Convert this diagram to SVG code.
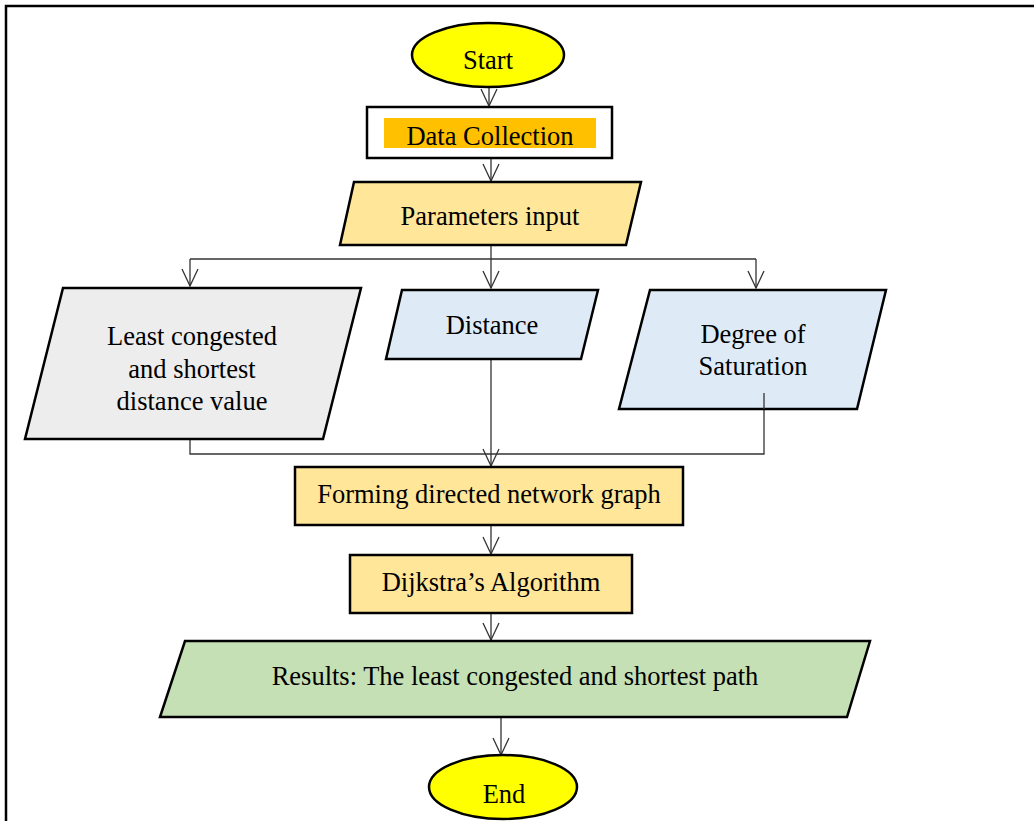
<svg xmlns="http://www.w3.org/2000/svg" width="1034" height="821" viewBox="0 0 1034 821">
<style>
  .shape { stroke: #000; stroke-width: 2.5; }
  .conn { fill: none; stroke: #333; stroke-width: 1.3; }
  .lbl { font-family: 'Liberation Serif', 'Times New Roman', serif; font-size: 26.5px; fill: #000; text-anchor: middle; }
</style>
<defs>
  <marker id="arr" markerUnits="userSpaceOnUse" markerWidth="20" markerHeight="20" viewBox="-10 -18 20 20" refX="0" refY="0" orient="auto" overflow="visible">
    <path d="M-17,-8 L0,0 L-17,8" fill="none" stroke="#333" stroke-width="1.3"/>
  </marker>
</defs>
<rect x="0" y="0" width="1034" height="821" fill="#fff"/>
<path d="M6,821 V6 H1034" fill="none" stroke="#000" stroke-width="2.5"/>

<g id="connectors">
  <path class="conn" d="M489,87 V106" marker-end="url(#arr)"/>
  <path class="conn" d="M491,158 V181" marker-end="url(#arr)"/>
  <path class="conn" d="M491,246 V259"/>
  <path class="conn" d="M190,259 H756"/>
  <path class="conn" d="M190,259 V286" marker-end="url(#arr)"/>
  <path class="conn" d="M491,259 V288" marker-end="url(#arr)"/>
  <path class="conn" d="M756,259 V288" marker-end="url(#arr)"/>
  <path class="conn" d="M190,439 V454 H764 V393"/>
  <path class="conn" d="M491,359 V466" marker-end="url(#arr)"/>
  <path class="conn" d="M491,525 V554" marker-end="url(#arr)"/>
  <path class="conn" d="M491,613 V640" marker-end="url(#arr)"/>
  <path class="conn" d="M501,717 V755" marker-end="url(#arr)"/>
</g>

<g id="start">
  <ellipse class="shape" cx="488" cy="55" rx="76" ry="32" fill="#FFFF00"/>
  <text class="lbl" x="488" y="68.5">Start</text>
</g>

<g id="data-collection">
  <rect class="shape" x="367" y="107" width="245" height="51" fill="#fff"/>
  <rect x="384" y="118" width="212" height="30" fill="#FFC000"/>
  <text class="lbl" x="490" y="144.5">Data Collection</text>
</g>

<g id="parameters-input">
  <polygon class="shape" points="354,182 641,182 626,245 340,245" fill="#FFE699"/>
  <text class="lbl" x="490" y="224.5">Parameters input</text>
</g>

<g id="least-congested">
  <polygon class="shape" points="63,288 361,288 323,439 25,439" fill="#EDEDED"/>
  <text class="lbl" x="192" y="344.5">Least congested</text>
  <text class="lbl" x="192" y="377.5">and shortest</text>
  <text class="lbl" x="192" y="409.5">distance value</text>
</g>

<g id="distance">
  <polygon class="shape" points="402,290 598,290 581,359 386,359" fill="#DEEBF7"/>
  <text class="lbl" x="492" y="334">Distance</text>
</g>

<g id="degree-of-saturation">
  <polygon class="shape" points="650,290 886,290 857,409 619,409" fill="#DEEBF7"/>
  <text class="lbl" x="753" y="343">Degree of</text>
  <text class="lbl" x="753" y="374.5">Saturation</text>
</g>
<path class="conn" d="M764,393 V409"/>

<g id="forming-graph">
  <rect class="shape" x="295" y="467" width="388" height="58" fill="#FFE699"/>
  <text class="lbl" x="489" y="503">Forming directed network graph</text>
</g>

<g id="dijkstra">
  <rect class="shape" x="350" y="555" width="282" height="58" fill="#FFE699"/>
  <text class="lbl" x="491" y="591">Dijkstra’s Algorithm</text>
</g>

<g id="results">
  <polygon class="shape" points="185,641 870,641 847,717 160,717" fill="#C5E0B4"/>
  <text class="lbl" x="515" y="684.5">Results: The least congested and shortest path</text>
</g>

<g id="end">
  <ellipse class="shape" cx="503" cy="787" rx="74" ry="32" fill="#FFFF00"/>
  <text class="lbl" x="504" y="802.5">End</text>
</g>
</svg>
